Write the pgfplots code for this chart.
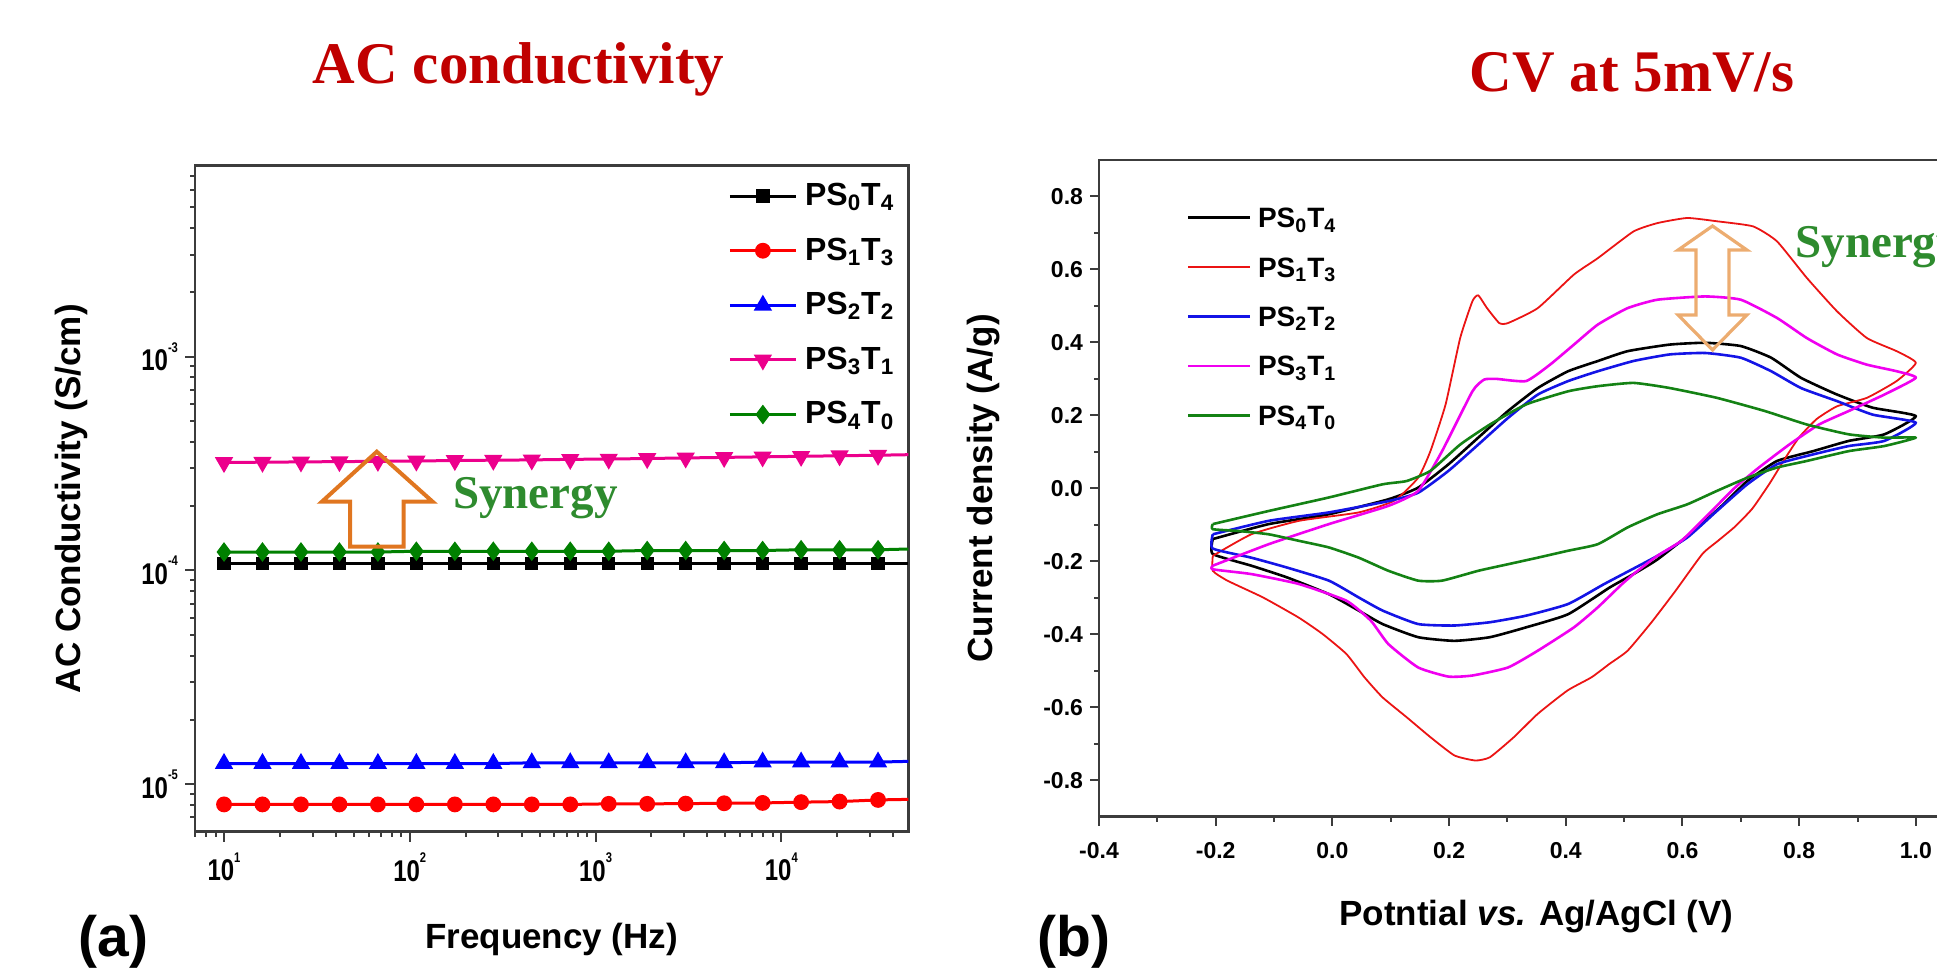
\documentclass[border=0pt]{standalone}
\usepackage{fontspec}
\setmainfont{Liberation Sans}
\newfontfamily\titlefont{Liberation Serif}
\newfontfamily\narrowfont{Liberation Sans}[FakeStretch=0.8]
\usepackage{pgfplots}
\pgfplotsset{compat=1.18}

\definecolor{titlered}{RGB}{192,0,0}
\definecolor{syngreen}{RGB}{46,139,46}
\definecolor{arrowA}{RGB}{224,118,32}
\definecolor{arrowB}{RGB}{236,172,112}
\definecolor{cvred}{RGB}{235,20,20}
\definecolor{cvblue}{RGB}{20,20,230}
\definecolor{cvmag}{RGB}{240,0,240}
\definecolor{cvgreen}{RGB}{20,130,20}
\definecolor{axgray}{RGB}{60,60,60}

\newcommand{\ex}[1]{10\raisebox{0.62em}{\fontsize{7}{7}\selectfont #1}}
\newcommand{\ps}[2]{PS\textsubscript{#1}T\textsubscript{#2}}

\begin{document}
\begin{tikzpicture}
\useasboundingbox (0,0) rectangle (968.5pt,484.5pt);

% (a) AC conductivity
\begin{axis}[
  at={(97.5pt,68.65pt)}, anchor=south west,
  scale only axis, width=356.65pt, height=333pt,
  xmode=log, ymode=log,
  xmin=6.98, xmax=48300, ymin=6.0e-6, ymax=7.82e-3,
  xtick={10,100,1000,10000},
  xticklabels={\ex{1},\ex{2},\ex{3},\ex{4}},
  ytick={1e-5,1e-4,1e-3},
  yticklabels={\ex{-5},\ex{-4},\ex{-3}},
  minor xtick={7,8,9,20,30,40,50,60,70,80,90,200,300,400,500,600,700,800,900,2000,3000,4000,5000,6000,7000,8000,9000,20000,30000,40000},
  minor ytick={7e-6,8e-6,9e-6,2e-5,3e-5,4e-5,5e-5,6e-5,7e-5,8e-5,9e-5,2e-4,3e-4,4e-4,5e-4,6e-4,7e-4,8e-4,9e-4,2e-3,3e-3,4e-3,5e-3,6e-3,7e-3},
  tick align=outside, tick pos=left,
  major tick length=5pt, minor tick length=2.5pt,
  axis line style={line width=1.3pt, axgray},
  tick style={line width=1pt, axgray},
  tick label style={font=\narrowfont\bfseries\fontsize{15}{15}\selectfont},
  xticklabel style={yshift=-2pt},
  xlabel={Frequency (Hz)},
  ylabel={AC Conductivity (S/cm)},
  label style={font=\bfseries\fontsize{17.5}{17.5}\selectfont},
  xlabel style={at={(axis description cs:0.5,-0.1746)}, anchor=base},
  ylabel style={at={(axis description cs:-0.16,0.5)}, anchor=base},
  legend cell align=left,
  legend style={draw=none, fill=none, inner sep=0pt, at={(0.7472,0.9811)}, anchor=north west,
    row sep=9.9pt, font=\bfseries\fontsize{16}{16}\selectfont,
    nodes={inner sep=0pt, inner xsep=3.85pt, text height=13.4pt, text depth=4pt}},
  legend image code/.code={\draw[mark repeat=2,mark phase=2,#1] plot coordinates {(0pt,0pt) (16.5pt,0pt) (33pt,0pt)};},
]
\addplot[black, line width=1.5pt, mark=square*, mark size=2.6pt] coordinates {
  (10,1.08e-4) (16.11,1.08e-4) (25.96,1.08e-4) (41.82,1.08e-4) (67.37,1.08e-4) (108.5,1.08e-4)
  (174.9,1.08e-4) (281.7,1.08e-4) (453.9,1.08e-4) (731.2,1.08e-4) (1178,1.08e-4) (1898,1.08e-4)
  (3058,1.08e-4) (4926,1.08e-4) (7937,1.08e-4) (12787,1.08e-4) (20601,1.08e-4) (33190,1.08e-4)};
\addlegendentry{\ps{0}{4}}
\addplot[red, line width=1.5pt, mark=*, mark size=3.2pt] coordinates {
  (10,8.05e-6) (16.11,8.05e-6) (25.96,8.05e-6) (41.82,8.05e-6) (67.37,8.05e-6) (108.5,8.05e-6)
  (174.9,8.05e-6) (281.7,8.05e-6) (453.9,8.05e-6) (731.2,8.05e-6) (1178,8.10e-6) (1898,8.10e-6)
  (3058,8.12e-6) (4926,8.15e-6) (7937,8.18e-6) (12787,8.25e-6) (20601,8.30e-6) (33190,8.45e-6)};
\addlegendentry{\ps{1}{3}}
\addplot[blue, line width=1.5pt, mark=triangle*, mark size=3.8pt] coordinates {
  (10,1.25e-5) (16.11,1.25e-5) (25.96,1.25e-5) (41.82,1.25e-5) (67.37,1.25e-5) (108.5,1.25e-5)
  (174.9,1.25e-5) (281.7,1.25e-5) (453.9,1.26e-5) (731.2,1.26e-5) (1178,1.26e-5) (1898,1.26e-5)
  (3058,1.26e-5) (4926,1.26e-5) (7937,1.27e-5) (12787,1.27e-5) (20601,1.27e-5) (33190,1.27e-5)};
\addlegendentry{\ps{2}{2}}
\addplot[magenta, line width=1.5pt, mark=triangle*, mark size=3.8pt, mark options={rotate=180}] coordinates {
  (10,3.20e-4) (16.11,3.21e-4) (25.96,3.22e-4) (41.82,3.23e-4) (67.37,3.24e-4) (108.5,3.25e-4)
  (174.9,3.27e-4) (281.7,3.28e-4) (453.9,3.29e-4) (731.2,3.31e-4) (1178,3.32e-4) (1898,3.34e-4)
  (3058,3.36e-4) (4926,3.38e-4) (7937,3.40e-4) (12787,3.42e-4) (20601,3.44e-4) (33190,3.46e-4)};
\addlegendentry{\ps{3}{1}}
\addplot[green!50!black, line width=1.5pt, mark=diamond*, mark size=3.7pt] coordinates {
  (10,1.22e-4) (16.11,1.22e-4) (25.96,1.22e-4) (41.82,1.22e-4) (67.37,1.22e-4) (108.5,1.23e-4)
  (174.9,1.23e-4) (281.7,1.23e-4) (453.9,1.23e-4) (731.2,1.23e-4) (1178,1.23e-4) (1898,1.24e-4)
  (3058,1.24e-4) (4926,1.24e-4) (7937,1.24e-4) (12787,1.25e-4) (20601,1.25e-4) (33190,1.25e-4)};
\addlegendentry{\ps{4}{0}}
% line ends past the last marker
\addplot[forget plot, black, line width=1.5pt] coordinates {(33190,1.08e-4) (48300,1.08e-4)};
\addplot[forget plot, red, line width=1.5pt] coordinates {(33190,8.45e-6) (48300,8.50e-6)};
\addplot[forget plot, blue, line width=1.5pt] coordinates {(33190,1.27e-5) (48300,1.28e-5)};
\addplot[forget plot, magenta, line width=1.5pt] coordinates {(33190,3.46e-4) (48300,3.48e-4)};
\addplot[forget plot, green!50!black, line width=1.5pt] coordinates {(33190,1.25e-4) (48300,1.26e-4)};
\end{axis}

% (b) CV at 5 mV/s
\begin{axis}[
  at={(549.5pt,76.15pt)}, anchor=south west,
  scale only axis, width=437.6pt, height=328.35pt,
  xmin=-0.4, xmax=1.1, ymin=-0.9, ymax=0.9,
  xtick={-0.4,-0.2,0,0.2,0.4,0.6,0.8,1.0},
  ytick={-0.8,-0.6,-0.4,-0.2,0,0.2,0.4,0.6,0.8},
  minor tick num=1,
  tick align=outside, tick pos=left,
  major tick length=4.5pt, minor tick length=2.5pt,
  axis line style={line width=1.3pt, axgray},
  tick style={line width=1pt, axgray},
  /pgf/number format/fixed, /pgf/number format/fixed zerofill,
  /pgf/number format/precision=1, /pgf/number format/assume math mode=true,
  tick label style={font=\bfseries\fontsize{11.5}{11.5}\selectfont},
  xticklabel style={yshift=-5pt},
  xlabel={Potntial \textit{vs.} Ag/AgCl (V)},
  ylabel={Current density (A/g)},
  label style={font=\bfseries\fontsize{17.5}{17.5}\selectfont},
  xlabel style={at={(axis description cs:0.5,-0.165)}, anchor=base},
  ylabel style={at={(axis description cs:-0.1222,0.5)}, anchor=base},
  legend cell align=left,
  legend style={draw=none, fill=none, inner sep=0pt, at={(0.1002,0.9386)}, anchor=north west,
    row sep=7.7pt, font=\bfseries\fontsize{14}{14}\selectfont,
    nodes={inner sep=0pt, inner xsep=3.35pt, text height=13.5pt, text depth=3.5pt}},
  legend image code/.code={\draw[#1] (0pt,0pt) -- (30.8pt,0pt);},
  every axis plot/.append style={line join=round, smooth, tension=0.3},
]
\addplot[black, line width=1.3pt] coordinates {
  (-0.205,-0.139) (-0.109,-0.098) (-0.006,-0.071) (0.096,-0.030) (0.147,0.002) (0.199,0.066)
  (0.250,0.139) (0.301,0.212) (0.352,0.275) (0.404,0.321) (0.455,0.349) (0.506,0.376)
  (0.578,0.394) (0.639,0.399) (0.700,0.390) (0.752,0.358) (0.803,0.303) (0.865,0.257)
  (0.926,0.221) (1.0,0.198)
  (0.946,0.148) (0.885,0.130) (0.824,0.102) (0.762,0.075) (0.711,0.020) (0.670,-0.044)
  (0.619,-0.117) (0.557,-0.195) (0.516,-0.235) (0.475,-0.272) (0.404,-0.345) (0.332,-0.381)
  (0.270,-0.408) (0.209,-0.418) (0.147,-0.408) (0.086,-0.372) (0.045,-0.335) (-0.006,-0.290)
  (-0.078,-0.244) (-0.139,-0.212) (-0.205,-0.180) (-0.205,-0.139)};
\addlegendentry{\ps{0}{4}}
\addplot[cvred, line width=0.9pt] coordinates {
  (-0.205,-0.185) (-0.139,-0.126) (-0.057,-0.089) (0.045,-0.066) (0.106,-0.034) (0.147,0.029)
  (0.168,0.102) (0.194,0.230) (0.219,0.412) (0.240,0.513) (0.250,0.529) (0.265,0.494)
  (0.286,0.453) (0.301,0.453) (0.352,0.494) (0.414,0.586) (0.455,0.631) (0.516,0.704)
  (0.557,0.727) (0.608,0.741) (0.659,0.732) (0.721,0.718) (0.762,0.677) (0.813,0.577)
  (0.865,0.485) (0.916,0.412) (0.967,0.376) (1.0,0.344)
  (0.967,0.294) (0.916,0.248) (0.865,0.225) (0.830,0.190) (0.800,0.140) (0.775,0.080)
  (0.750,0.015) (0.720,-0.055) (0.690,-0.105) (0.660,-0.145) (0.634,-0.180) (0.588,-0.281)
  (0.547,-0.367) (0.506,-0.445) (0.475,-0.481) (0.444,-0.518) (0.403,-0.554) (0.352,-0.618)
  (0.311,-0.682) (0.270,-0.737) (0.245,-0.746) (0.209,-0.732) (0.168,-0.682) (0.127,-0.627)
  (0.086,-0.573) (0.055,-0.518) (0.024,-0.454) (-0.017,-0.399) (-0.058,-0.354) (-0.119,-0.299)
  (-0.180,-0.253) (-0.205,-0.226) (-0.205,-0.185)};
\addlegendentry{\ps{1}{3}}
\addplot[cvblue, line width=1.3pt] coordinates {
  (-0.205,-0.126) (-0.109,-0.089) (-0.006,-0.066) (0.096,-0.035) (0.147,-0.012) (0.199,0.048)
  (0.250,0.120) (0.301,0.193) (0.352,0.257) (0.404,0.294) (0.455,0.321) (0.516,0.349)
  (0.578,0.367) (0.639,0.371) (0.700,0.358) (0.752,0.321) (0.803,0.275) (0.865,0.239)
  (0.926,0.202) (1.0,0.180)
  (0.946,0.130) (0.885,0.116) (0.824,0.093) (0.762,0.066) (0.711,0.011) (0.659,-0.062)
  (0.608,-0.135) (0.557,-0.185) (0.516,-0.220) (0.465,-0.263) (0.404,-0.317) (0.332,-0.349)
  (0.270,-0.367) (0.209,-0.376) (0.147,-0.372) (0.086,-0.335) (0.045,-0.299) (-0.006,-0.253)
  (-0.078,-0.217) (-0.139,-0.190) (-0.205,-0.165) (-0.205,-0.126)};
\addlegendentry{\ps{2}{2}}
\addplot[cvmag, line width=1.3pt] coordinates {
  (-0.205,-0.212) (-0.109,-0.153) (-0.006,-0.098) (0.096,-0.048) (0.147,-0.007) (0.188,0.102)
  (0.240,0.266) (0.260,0.298) (0.281,0.300) (0.332,0.294) (0.373,0.339) (0.414,0.394)
  (0.455,0.449) (0.506,0.494) (0.557,0.517) (0.639,0.526) (0.700,0.517) (0.762,0.467)
  (0.813,0.412) (0.865,0.367) (0.916,0.339) (0.967,0.321) (1.0,0.303)
  (0.946,0.257) (0.885,0.212) (0.834,0.175) (0.783,0.120) (0.731,0.057) (0.690,0.002)
  (0.639,-0.080) (0.598,-0.144) (0.557,-0.185) (0.520,-0.230) (0.496,-0.263) (0.455,-0.326)
  (0.414,-0.381) (0.352,-0.445) (0.301,-0.491) (0.240,-0.513) (0.199,-0.516) (0.147,-0.491)
  (0.096,-0.427) (0.066,-0.363) (0.024,-0.308) (-0.058,-0.262) (-0.139,-0.235) (-0.205,-0.222)
  (-0.205,-0.212)};
\addlegendentry{\ps{3}{1}}
\addplot[cvgreen, line width=1.3pt] coordinates {
  (-0.205,-0.098) (-0.109,-0.062) (-0.006,-0.025) (0.086,0.011) (0.127,0.020) (0.168,0.048)
  (0.219,0.120) (0.270,0.175) (0.332,0.230) (0.404,0.266) (0.455,0.280) (0.516,0.289)
  (0.578,0.275) (0.659,0.248) (0.741,0.212) (0.813,0.175) (0.885,0.148) (0.946,0.139)
  (1.0,0.139)
  (0.946,0.116) (0.885,0.102) (0.813,0.075) (0.762,0.057) (0.711,0.029) (0.659,-0.007)
  (0.608,-0.044) (0.557,-0.071) (0.506,-0.107) (0.455,-0.153) (0.404,-0.171) (0.352,-0.190)
  (0.301,-0.208) (0.250,-0.226) (0.188,-0.253) (0.147,-0.253) (0.096,-0.226) (0.045,-0.190)
  (-0.006,-0.162) (-0.057,-0.144) (-0.109,-0.126) (-0.160,-0.117) (-0.205,-0.112) (-0.205,-0.098)};
\addlegendentry{\ps{4}{0}}
\end{axis}

% titles, panel letters and annotations, in pixel units of the reference
\begin{scope}[x=0.5pt, y=-0.5pt, yshift=484.5pt]
  \node[anchor=base, inner sep=0pt, text=titlered, font=\titlefont\bfseries\fontsize{29.5}{30}\selectfont]
    at (518.6,83.3) {AC conductivity};
  \node[anchor=base, inner sep=0pt, text=titlered, font=\titlefont\bfseries\fontsize{29.5}{30}\selectfont]
    at (1632,92) {CV at 5mV/s};
  \node[anchor=base west, inner sep=0pt, font=\bfseries\fontsize{28.5}{28.5}\selectfont] at (78,956) {(a)};
  \node[anchor=base west, inner sep=0pt, font=\bfseries\fontsize{28.5}{28.5}\selectfont] at (1037,956) {(b)};
  \node[anchor=base west, inner sep=0pt, text=syngreen, font=\titlefont\bfseries\fontsize{23.5}{24}\selectfont]
    at (452.7,508.3) {Synergy};
  \node[anchor=base west, inner sep=0pt, text=syngreen, font=\titlefont\bfseries\fontsize{23.5}{24}\selectfont]
    at (1795,258) {Synergy};
  \draw[arrowA, line width=2pt, line join=miter]
    (376.8,451.7) -- (432.6,501.7) -- (403.6,501.7) -- (403.6,546.7) -- (350,546.7)
    -- (350,501.7) -- (321.9,501.7) -- cycle;
  \draw[arrowB, line width=1.6pt, line join=miter]
    (1712.5,226) -- (1746.9,250) -- (1729,250) -- (1729,315) -- (1746.9,315) -- (1712.5,350)
    -- (1678.1,315) -- (1696,315) -- (1696,250) -- (1678.1,250) -- cycle;
\end{scope}
\end{tikzpicture}
\end{document}
